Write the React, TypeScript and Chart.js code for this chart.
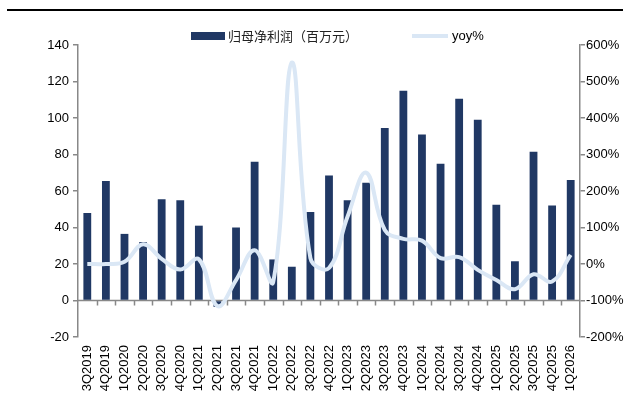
import React, { useEffect, useRef } from "react";
import { Chart, registerables } from "chart.js";

Chart.register(...registerables);

const categories = [
  "3Q2019", "4Q2019", "1Q2020", "2Q2020", "3Q2020", "4Q2020", "1Q2021", "2Q2021", "3Q2021",
  "4Q2021", "1Q2022", "2Q2022", "3Q2022", "4Q2022", "1Q2023", "2Q2023", "3Q2023", "4Q2023",
  "1Q2024", "2Q2024", "3Q2024", "4Q2024", "1Q2025", "2Q2025", "3Q2025", "4Q2025", "1Q2026",
];

const netProfit = [
  48, 65.5, 36.5, 32, 55.5, 55, 41, -3.5, 40,
  76, 22.5, 18.5, 48.5, 68.5, 55, 64.5, 94.5, 115,
  91, 75, 110.5, 99, 52.5, 21.5, 81.5, 52, 66,
];

const yoy = [
  0, 0, 6, 54, 14, -15, 13, -115, -44,
  38, -49, 552, 16, -11, 130, 250, 93, 69,
  64, 16, 19, -16, -44, -69, -28, -48, 25,
];

const barLabel = "归母净利润（百万元）";
const lineLabel = "yoy%";
const BAR_COLOR = "#203864";
const LINE_COLOR = "#dae7f5";
const AXIS_COLOR = "#888888";
const FONT = "'Liberation Sans', Arial, sans-serif";

const decorPlugin = {
  id: "decor",
  beforeDatasetsDraw(chart: any) {
    const { ctx, chartArea } = chart;
    const y0 = chart.scales.y.getPixelForValue(0);
    ctx.save();
    ctx.strokeStyle = AXIS_COLOR;
    ctx.lineWidth = 1.5;
    ctx.beginPath();
    ctx.moveTo(chartArea.left, y0);
    ctx.lineTo(chartArea.right, y0);
    const n = categories.length;
    const w = (chartArea.right - chartArea.left) / n;
    for (let i = 1; i < n; i++) {
      const x = Math.round(chartArea.left + i * w) + 0.5;
      ctx.moveTo(x, y0);
      ctx.lineTo(x, y0 + 5);
    }
    ctx.stroke();
    ctx.restore();
  },
  afterDraw(chart: any) {
    const { ctx } = chart;
    ctx.save();
    // top rule
    ctx.fillStyle = "#000";
    ctx.fillRect(7, 9, 616, 2);
    // legend
    ctx.fillStyle = BAR_COLOR;
    ctx.fillRect(191, 32, 34, 8);
    ctx.fillStyle = "#222";
    ctx.textBaseline = "middle";
    ctx.font = "13px 'Noto Sans CJK SC'";
    ctx.fillText(barLabel, 228, 36);
    ctx.strokeStyle = LINE_COLOR;
    ctx.lineWidth = 4;
    ctx.beginPath();
    ctx.moveTo(412, 36);
    ctx.lineTo(448, 36);
    ctx.stroke();
    ctx.fillStyle = "#000";
    ctx.font = "13px " + FONT;
    ctx.fillText(lineLabel, 452, 36);
    ctx.restore();
  },
};

export default function App() {
  const ref = useRef<HTMLCanvasElement>(null);
  useEffect(() => {
    if (!ref.current) return;
    const chart = new Chart(ref.current, {
      type: "bar",
      data: {
        labels: categories,
        datasets: [
          {
            type: "line",
            label: lineLabel,
            data: yoy,
            yAxisID: "y1",
            borderColor: LINE_COLOR,
            backgroundColor: LINE_COLOR,
            borderWidth: 4,
            pointRadius: 0,
            tension: 0.4,
            order: 0,
          } as any,
          {
            type: "bar",
            label: barLabel,
            data: netProfit,
            yAxisID: "y",
            backgroundColor: BAR_COLOR,
            barPercentage: 0.42,
            categoryPercentage: 1,
            order: 1,
          },
        ],
      },
      options: {
        animation: false,
        responsive: true,
        maintainAspectRatio: false,
        layout: { padding: { top: 45, left: 0, right: 0, bottom: 0 } },
        plugins: { legend: { display: false }, tooltip: { enabled: false } },
        scales: {
          x: {
            grid: { display: false, drawTicks: false },
            border: { display: false },
            ticks: {
              minRotation: 90,
              maxRotation: 90,
              autoSkip: false,
              padding: 8,
              color: "#000",
              font: { family: FONT, size: 13 },
            },
            afterFit: (s: any) => { s.height = 74; },
          },
          y: {
            position: "left",
            min: -20,
            max: 140,
            ticks: { stepSize: 20, color: "#000", padding: 4, font: { family: FONT, size: 13 } },
            grid: { drawOnChartArea: false, drawTicks: true, tickLength: 5, color: AXIS_COLOR, lineWidth: 1.5 },
            border: { color: AXIS_COLOR, width: 1.5 },
            afterFit: (s: any) => { s.width = 78; },
          },
          y1: {
            position: "right",
            min: -200,
            max: 600,
            ticks: {
              stepSize: 100,
              color: "#000",
              padding: 1,
              font: { family: FONT, size: 13 },
              callback: (v: any) => v + "%",
            },
            grid: { drawOnChartArea: false, drawTicks: true, tickLength: 5, color: AXIS_COLOR, lineWidth: 1.5 },
            border: { color: AXIS_COLOR, width: 1.5 },
            afterFit: (s: any) => { s.width = 50; },
          },
        },
      },
      plugins: [decorPlugin],
    });
    return () => chart.destroy();
  }, []);
  return (
    <div style={{ position: "fixed", left: 0, top: 0, width: 630, height: 411, background: "#fff" }}>
      <canvas ref={ref} />
    </div>
  );
}
